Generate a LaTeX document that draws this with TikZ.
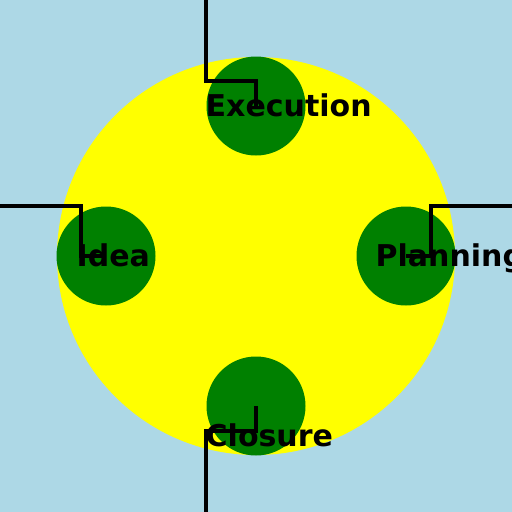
\documentclass[tikz,border=0pt]{standalone}
\usepackage{fontspec}
\setmainfont{DejaVu Sans}
\definecolor{bgblue}{HTML}{ADD8E6}
\definecolor{dgreen}{HTML}{008000}
\definecolor{yel}{HTML}{FFFF00}
\begin{document}
\begin{tikzpicture}[x=1pt,y=-1pt,
  phase/.style={circle,fill=dgreen,minimum size=99pt,inner sep=0pt},
  link/.style={line width=4pt,black},
  lbl/.style={anchor=base west,inner sep=0pt,font=\fontsize{30}{36}\selectfont\bfseries}]
\fill[bgblue] (0,0) rectangle (512,512);
\useasboundingbox (0,0) rectangle (512,512);
\node[circle,fill=yel,minimum size=398pt,inner sep=0pt] (hub) at (256,256) {};
\node[phase] (exec) at (256,106) {};
\node[phase] (idea) at (106,256) {};
\node[phase] (plan) at (406,256) {};
\node[phase] (clos) at (256,406) {};
\coordinate (t0) at (206,0);   \coordinate (t1) at (206,81);
\coordinate (l0) at (0,206);   \coordinate (l1) at (81,206);
\coordinate (r0) at (512,206); \coordinate (r1) at (431,206);
\coordinate (b0) at (206,512); \coordinate (b1) at (206,431);
\draw[link] (t0) -- (t1) -| (exec.center);
\draw[link] (l0) -- (l1) |- (idea.center);
\draw[link] (r0) -- (r1) |- (plan.center);
\draw[link] (b0) -- (b1) -| (clos.center);
\node[lbl] (texec) at (205.5,116) {Execution};
\node[lbl] (tidea) at (76.5,266) {Idea};
\node[lbl] (tplan) at (375.5,266) {Planning};
\node[lbl] (tclos) at (205.5,446) {Closure};
\end{tikzpicture}
\end{document}
